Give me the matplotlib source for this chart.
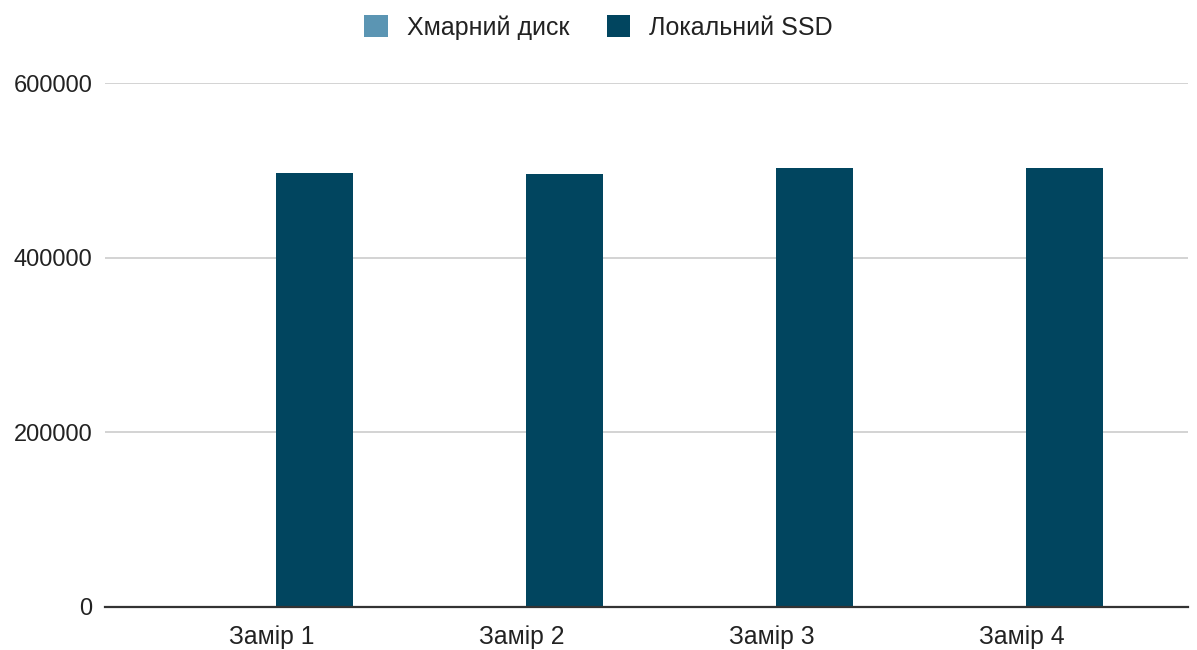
import numpy as np
import matplotlib.pyplot as plt
from matplotlib.patches import Patch

plt.rcParams['font.family'] = ['Liberation Sans', 'DejaVu Sans']

# ------------------------------
# Data
# ------------------------------
categories = ['Замір 1', 'Замір 2', 'Замір 3', 'Замір 4']
cloud_disk = [500, 500, 500, 500]
local_ssd = [497300, 495800, 503000, 502300]
series_names = ['Хмарний диск', 'Локальний SSD']
y_ticks = [0, 200000, 400000, 600000]

cloud_color = '#5b95b3'
ssd_color = '#01455f'

# ------------------------------
# Grouped bar chart
# ------------------------------
fig = plt.figure(figsize=(11.97, 6.5), dpi=100)
ax = fig.add_axes([0.0877, 0.0662, 0.9048, 0.8061])

x = np.arange(len(categories))
width = 0.31
ax.bar(x - 0.17, cloud_disk, width, color=cloud_color, zorder=3)
ax.bar(x + 0.17, local_ssd, width, color=ssd_color, zorder=3)

ax.set_xlim(-0.668, 3.664)
ax.set_ylim(0, 600000)
ax.set_yticks(y_ticks)
ax.set_yticklabels([str(t) for t in y_ticks])
ax.set_xticks(x)
ax.set_xticklabels(categories)
ax.tick_params(axis='both', length=0, colors='#222222')
ax.tick_params(axis='y', pad=9, labelsize=17)
ax.tick_params(axis='x', pad=13, labelsize=17.8)

ax.grid(axis='y', color='#cccccc', linewidth=1.2, zorder=0)
for side in ['top', 'right', 'left']:
    ax.spines[side].set_visible(False)
ax.spines['bottom'].set_color('#333333')
ax.spines['bottom'].set_linewidth(1.6)
ax.spines['bottom'].set_zorder(4)

handles = [Patch(facecolor=cloud_color), Patch(facecolor=ssd_color)]
fig.legend(handles, series_names, loc='center', bbox_to_anchor=(0.5, 0.958),
           ncol=2, frameon=False, fontsize=18, handlelength=0.95,
           handleheight=0.95, handletextpad=0.75, columnspacing=1.5,
           labelcolor='#222222')

fig.savefig('out.png', dpi=100)
